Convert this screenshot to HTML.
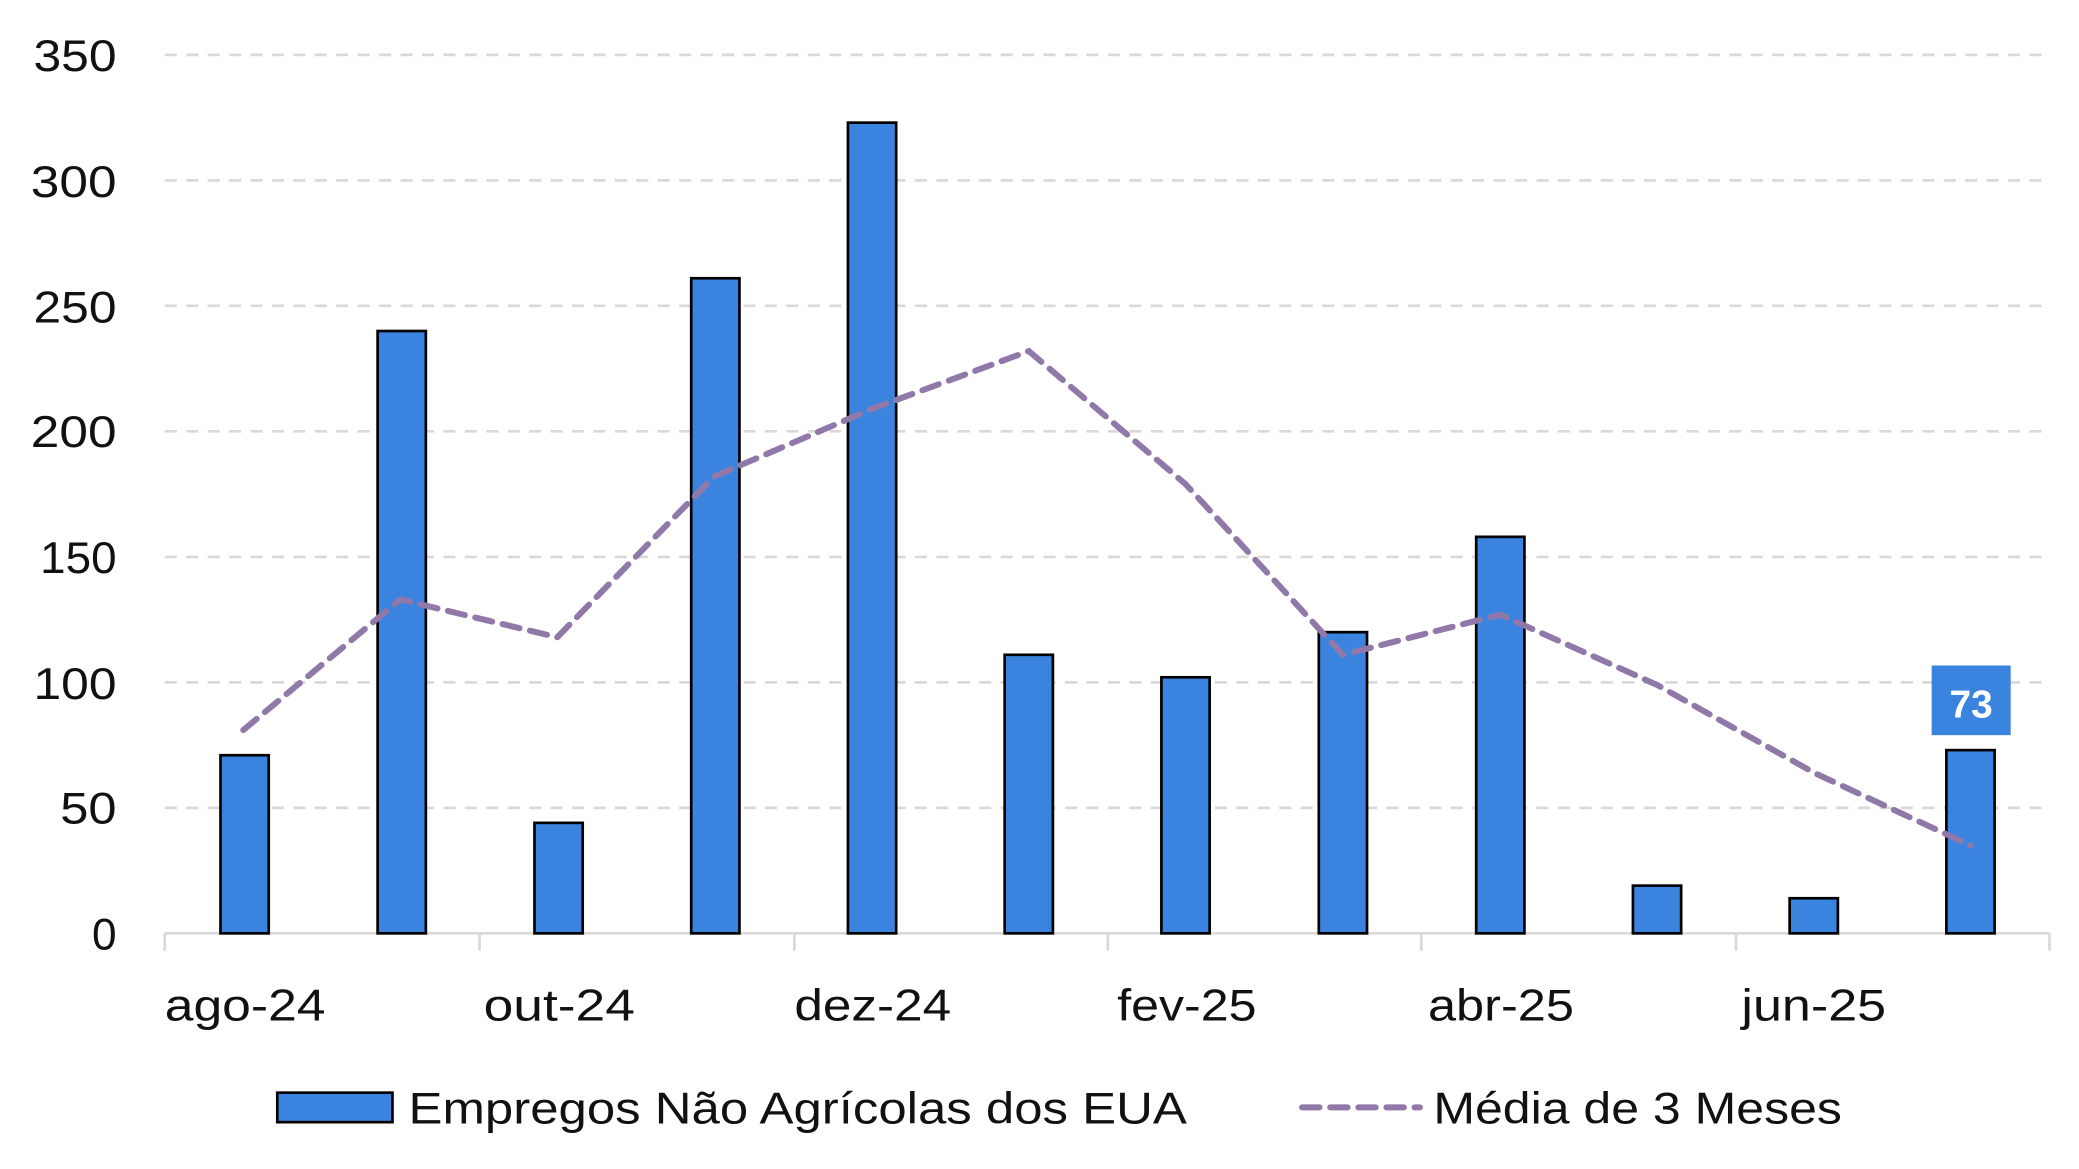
<!DOCTYPE html>
<html><head><meta charset="utf-8"><style>html,body{margin:0;padding:0;background:#fff;}svg{display:block}</style></head>
<body>
<svg width="2079" height="1169" viewBox="0 0 1552 873" preserveAspectRatio="none" xmlns="http://www.w3.org/2000/svg" font-family="Liberation Sans, sans-serif">
<g stroke="#d9d9d9" stroke-width="2" stroke-dasharray="9,7">
<line x1="123" x2="1530" y1="41" y2="41"/><line x1="123" x2="1530" y1="134.7" y2="134.7"/><line x1="123" x2="1530" y1="228.4" y2="228.4"/><line x1="123" x2="1530" y1="322.1" y2="322.1"/><line x1="123" x2="1530" y1="415.9" y2="415.9"/><line x1="123" x2="1530" y1="509.6" y2="509.6"/><line x1="123" x2="1530" y1="603.3" y2="603.3"/>
</g>
<g stroke="#d9d9d9" stroke-width="2">
<line x1="123" x2="1530" y1="697" y2="697"/>
<line x1="123" x2="123" y1="697" y2="710"/><line x1="358" x2="358" y1="697" y2="710"/><line x1="593" x2="593" y1="697" y2="710"/><line x1="827" x2="827" y1="697" y2="710"/><line x1="1061" x2="1061" y1="697" y2="710"/><line x1="1296" x2="1296" y1="697" y2="710"/><line x1="1530" x2="1530" y1="697" y2="710"/>
</g>
<g font-size="33" fill="#111" text-anchor="end">
<text x="87" y="53" textLength="62" lengthAdjust="spacingAndGlyphs">350</text><text x="87" y="147" textLength="64" lengthAdjust="spacingAndGlyphs">300</text><text x="87" y="241" textLength="62" lengthAdjust="spacingAndGlyphs">250</text><text x="87" y="334" textLength="64" lengthAdjust="spacingAndGlyphs">200</text><text x="87" y="428" textLength="57" lengthAdjust="spacingAndGlyphs">150</text><text x="87" y="522" textLength="62" lengthAdjust="spacingAndGlyphs">100</text><text x="87" y="615" textLength="42" lengthAdjust="spacingAndGlyphs">50</text><text x="87" y="709">0</text>
</g>
<g fill="#3a84e0" stroke="#000" stroke-width="2">
<rect x="164.6" y="564" width="36" height="133"/>
<rect x="281.9" y="247.2" width="36" height="449.8"/>
<rect x="399" y="614.5" width="36" height="82.5"/>
<rect x="516" y="207.8" width="36" height="489.2"/>
<rect x="633" y="91.6" width="36" height="605.4"/>
<rect x="750" y="489" width="36" height="208"/>
<rect x="867" y="505.8" width="36" height="191.2"/>
<rect x="984.5" y="472.1" width="36" height="224.9"/>
<rect x="1102" y="400.9" width="36" height="296.1"/>
<rect x="1219" y="661.4" width="36" height="35.6"/>
<rect x="1336" y="670.8" width="36" height="26.2"/>
<rect x="1453" y="560.2" width="36" height="136.8"/>
</g>
<polyline fill="none" stroke="#9078a8" stroke-width="4.5" stroke-dasharray="13,8" stroke-linecap="round" points="181.6,545.2 298.9,447.7 416,475.9 533,355.9 651,305.3 768,262.2 885,361.5 1002.5,489 1120,459 1237,511.5 1354,577 1471,631.4"/>
<rect x="1442" y="497" width="59" height="52" fill="#3a84e0"/>
<text x="1471.5" y="536" font-size="29" font-weight="bold" fill="#fff" text-anchor="middle">73</text>
<g font-size="33" fill="#111">
<text x="123" y="762" textLength="120" lengthAdjust="spacingAndGlyphs">ago-24</text>
<text x="361" y="762" textLength="113" lengthAdjust="spacingAndGlyphs">out-24</text>
<text x="593" y="762" textLength="117" lengthAdjust="spacingAndGlyphs">dez-24</text>
<text x="834" y="762" textLength="104" lengthAdjust="spacingAndGlyphs">fev-25</text>
<text x="1066" y="762" textLength="109" lengthAdjust="spacingAndGlyphs">abr-25</text>
<text x="1300" y="762" textLength="108" lengthAdjust="spacingAndGlyphs">jun-25</text>
</g>
<rect x="207" y="816" width="86" height="22" fill="#3a84e0" stroke="#000" stroke-width="2"/>
<text x="305" y="839" font-size="33" fill="#111" textLength="581" lengthAdjust="spacingAndGlyphs">Empregos Não Agrícolas dos EUA</text>
<line x1="972" x2="1060" y1="827" y2="827" stroke="#9078a8" stroke-width="4.5" stroke-dasharray="13,8" stroke-linecap="round"/>
<text x="1070" y="839" font-size="33" fill="#111" textLength="305" lengthAdjust="spacingAndGlyphs">Média de 3 Meses</text>
</svg>
</body></html>
